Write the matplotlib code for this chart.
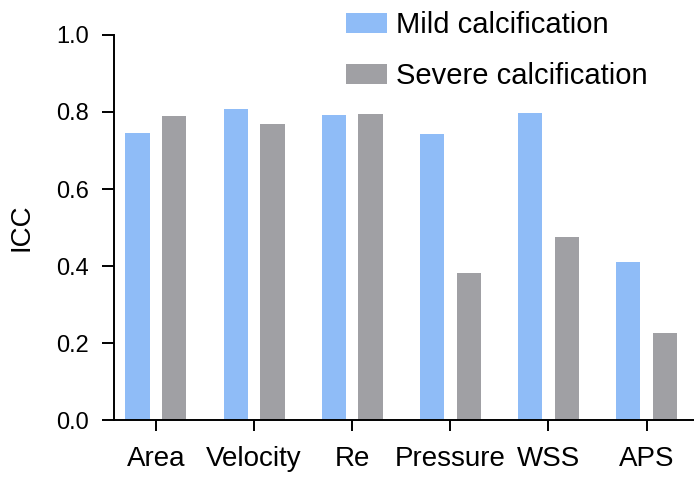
import matplotlib
matplotlib.use('Agg')
import matplotlib.pyplot as plt
import numpy as np

plt.rcParams['font.family'] = ['Liberation Sans', 'DejaVu Sans']

categories = ['Area', 'Velocity', 'Re', 'Pressure', 'WSS', 'APS']
mild = [0.746, 0.807, 0.792, 0.743, 0.797, 0.411]
severe = [0.790, 0.769, 0.795, 0.383, 0.475, 0.227]
yticks = [0.0, 0.2, 0.4, 0.6, 0.8, 1.0]

blue = '#8fbcf7'
gray = '#a0a0a4'

fig = plt.figure(figsize=(6.94, 4.82), dpi=100)
ax = fig.add_axes([0.1638, 0.1286, 0.8362, 0.7988])

x = np.arange(len(categories))
w = 0.247
off = 0.187
ax.bar(x - off, mild, w, color=blue, label='Mild calcification')
ax.bar(x + off, severe, w, color=gray, label='Severe calcification')

ax.set_xlim(-0.431, 5.484)
ax.set_ylim(0, 1.0)
ax.set_yticks(yticks)
ax.set_yticklabels(['%.1f' % v for v in yticks])
ax.set_xticks(x)
ax.set_xticklabels(categories)

for s in ['top', 'right']:
    ax.spines[s].set_visible(False)
for s in ['left', 'bottom']:
    ax.spines[s].set_linewidth(1.4)

ax.tick_params(axis='y', length=8.6, width=1.4, labelsize=17, pad=9.5)
ax.tick_params(axis='x', length=8, width=1.4, labelsize=20, pad=11)
ax.set_ylabel('ICC', fontsize=20, labelpad=15)

ax.legend(loc='upper left', bbox_to_anchor=(346 / 694, 1 - 11 / 482), bbox_transform=fig.transFigure,
          frameon=False, fontsize=21, handlelength=1.4, handleheight=0.7,
          handletextpad=0.3, labelspacing=0.8, borderpad=0, borderaxespad=0)

fig.savefig('out.png', dpi=100)
